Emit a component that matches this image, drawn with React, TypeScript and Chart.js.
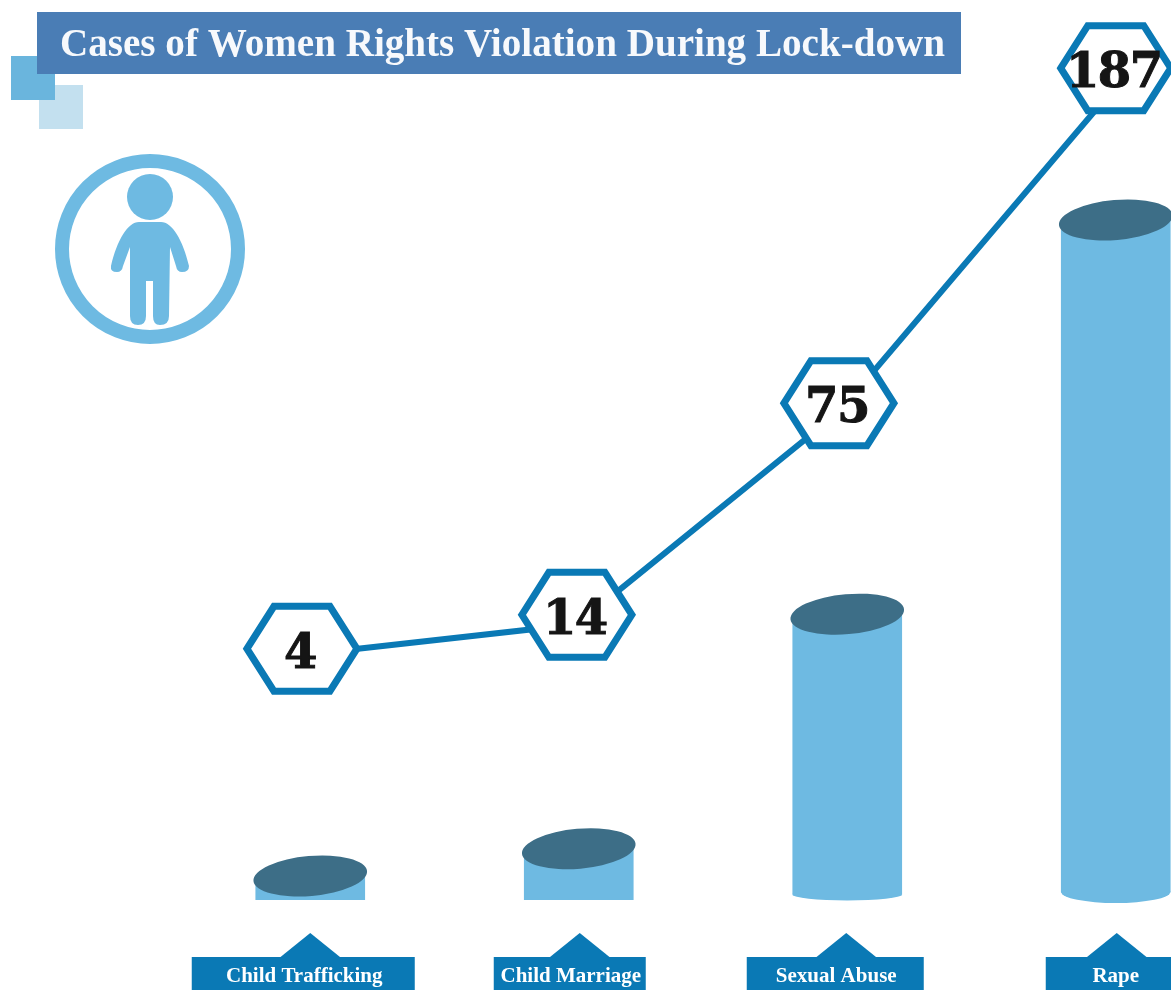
import React, { useEffect, useRef } from "react";
import { Chart, registerables } from "chart.js";

Chart.register(...registerables);

const titleText = "Cases of Women Rights Violation During Lock-down";
const categories = ["Child Trafficking", "Child Marriage", "Sexual Abuse", "Rape"];
const caseCounts = [4, 14, 75, 187];
// Heights and levels: the original's shapes are only roughly to scale.
const cylinderLevels = [6.6, 14.1, 78.6, 187];
const connectorLevels = [2, 11.7, 78.6, 181.3];
const hexagonLevels = [4, 14.7, 81.4, 187];
const hexagonPositions = [-0.031, 0.993, 1.969, 3];

const BAR = "#6EBAE2";
const TOP = "#3D6E87";
const BLUE = "#0A79B5";
const SERIF = '"Liberation Serif", serif';

// styling of the decorations
const capCorner = [0, 0, 5.5, 8];
const capDepth = [0, 0, 6, 11];
const bannerShift = [-7, -9, -12, -1];
const bannerHalf = [111.5, 76, 88.5, 69];
const pointerShift = [0, 1, -1, 1];

function hexPath(ctx: CanvasRenderingContext2D, x: number, y: number) {
  const hw = 55, hh = 42.5, inset = 27;
  ctx.beginPath();
  ctx.moveTo(x - hw, y);
  ctx.lineTo(x - hw + inset, y - hh);
  ctx.lineTo(x + hw - inset, y - hh);
  ctx.lineTo(x + hw, y);
  ctx.lineTo(x + hw - inset, y + hh);
  ctx.lineTo(x - hw + inset, y + hh);
  ctx.closePath();
}

function drawPerson(ctx: CanvasRenderingContext2D) {
  ctx.strokeStyle = BAR;
  ctx.lineWidth = 14;
  ctx.beginPath();
  ctx.arc(150, 249, 88, 0, Math.PI * 2);
  ctx.stroke();
  ctx.fillStyle = BAR;
  ctx.beginPath();
  ctx.arc(150, 197, 23, 0, Math.PI * 2);
  ctx.fill();
  ctx.beginPath();
  ctx.moveTo(139, 222);
  ctx.lineTo(161, 222);
  ctx.bezierCurveTo(172, 222, 183, 240, 189, 266);
  ctx.quadraticCurveTo(189, 272, 182, 272);
  ctx.quadraticCurveTo(177, 272, 176, 266);
  ctx.lineTo(170, 247);
  ctx.lineTo(169, 316);
  ctx.quadraticCurveTo(169, 325, 160, 325);
  ctx.quadraticCurveTo(153, 325, 153, 316);
  ctx.lineTo(153, 281);
  ctx.lineTo(146, 281);
  ctx.lineTo(146, 316);
  ctx.quadraticCurveTo(146, 325, 138, 325);
  ctx.quadraticCurveTo(130, 325, 130, 316);
  ctx.lineTo(130, 247);
  ctx.lineTo(123, 266);
  ctx.quadraticCurveTo(122, 272, 117, 272);
  ctx.quadraticCurveTo(110, 272, 111, 266);
  ctx.bezierCurveTo(117, 240, 128, 222, 139, 222);
  ctx.closePath();
  ctx.fill();
}

const decorations = {
  id: "decorations",
  beforeDraw(chart: any) {
    const ctx: CanvasRenderingContext2D = chart.ctx;
    ctx.save();
    ctx.fillStyle = "#ffffff";
    ctx.fillRect(0, 0, chart.width, chart.height);
    ctx.fillStyle = "#C3E0EF";
    ctx.fillRect(39, 85, 44, 44);
    ctx.fillStyle = "#6AB5DD";
    ctx.fillRect(11, 56, 44, 44);
    ctx.fillStyle = "#4A7DB5";
    ctx.fillRect(37, 12, 924, 62);
    ctx.fillStyle = "#F7F9FC";
    ctx.font = `bold 40px ${SERIF}`;
    ctx.textAlign = "left";
    ctx.textBaseline = "alphabetic";
    ctx.fillText(titleText, 60, 56, 885);
    drawPerson(ctx);

    const xScale = chart.scales.x;
    categories.forEach((label, i) => {
      const c = xScale.getPixelForValue(i);
      const m = c + bannerShift[i];
      const p = c + pointerShift[i];
      ctx.fillStyle = BLUE;
      ctx.fillRect(m - bannerHalf[i], 957, bannerHalf[i] * 2, 33);
      ctx.beginPath();
      ctx.moveTo(p - 31, 958);
      ctx.lineTo(p, 933);
      ctx.lineTo(p + 31, 958);
      ctx.closePath();
      ctx.fill();
      ctx.fillStyle = "#ffffff";
      ctx.font = `bold 21px ${SERIF}`;
      ctx.textAlign = "center";
      ctx.fillText(label, m + 1, 982);
    });
    ctx.restore();
  },
  afterDatasetsDraw(chart: any) {
    const ctx: CanvasRenderingContext2D = chart.ctx;
    ctx.save();
    const bars = chart.getDatasetMeta(0).data;
    bars.forEach((bar: any, i: number) => {
      const half = bar.width / 2;
      if (capDepth[i] > 0) {
        const cornerY = bar.base - capCorner[i];
        ctx.fillStyle = "#ffffff";
        ctx.fillRect(bar.x - half - 1, cornerY, bar.width + 2, capCorner[i] + 2);
        ctx.fillStyle = BAR;
        ctx.beginPath();
        ctx.ellipse(bar.x, cornerY, half, capDepth[i], 0, 0, Math.PI);
        ctx.closePath();
        ctx.fill();
        ctx.fillRect(bar.x - half, cornerY - 1, bar.width, 2);
      }
      ctx.fillStyle = TOP;
      ctx.beginPath();
      ctx.ellipse(bar.x, bar.y, 57, 20, (-5 * Math.PI) / 180, 0, Math.PI * 2);
      ctx.fill();
    });
    const hexes = chart.getDatasetMeta(2).data;
    hexes.forEach((pt: any, i: number) => {
      hexPath(ctx, pt.x, pt.y);
      ctx.fillStyle = "#ffffff";
      ctx.fill();
      ctx.strokeStyle = BLUE;
      ctx.lineWidth = 7;
      ctx.lineJoin = "miter";
      ctx.stroke();
      ctx.fillStyle = "#151515";
      ctx.strokeStyle = "#151515";
      ctx.lineWidth = 1;
      ctx.font = 'bold 48px "DejaVu Serif", serif';
      (ctx as any).letterSpacing = "-1.5px";
      ctx.textAlign = "center";
      ctx.textBaseline = "alphabetic";
      ctx.fillText(String(caseCounts[i]), pt.x - 2, pt.y + 19);
      ctx.strokeText(String(caseCounts[i]), pt.x - 2, pt.y + 19);
      (ctx as any).letterSpacing = "0px";
    });
    ctx.restore();
  },
};

export default function App() {
  const ref = useRef<HTMLCanvasElement | null>(null);
  useEffect(() => {
    const chart = new Chart(ref.current as HTMLCanvasElement, {
      type: "bar",
      data: {
        labels: categories,
        datasets: [
          {
            type: "bar",
            label: "Cylinders",
            data: cylinderLevels,
            backgroundColor: BAR,
            barThickness: 109,
            grouped: false,
            order: 3,
          },
          {
            type: "line",
            label: "Connector",
            data: connectorLevels.map((y, i) => ({ x: hexagonPositions[i], y })),
            xAxisID: "x2",
            yAxisID: "y2",
            borderColor: BLUE,
            borderWidth: 6,
            pointRadius: 0,
            tension: 0,
            clip: false,
            order: 2,
          },
          {
            type: "line",
            label: "Cases",
            data: hexagonLevels.map((y, i) => ({ x: hexagonPositions[i], y })),
            xAxisID: "x2",
            yAxisID: "y2",
            showLine: false,
            pointRadius: 0,
            clip: false,
            order: 1,
          },
        ],
      } as any,
      options: {
        responsive: false,
        animation: false,
        layout: { padding: { left: 176, right: 0, top: 0, bottom: 90 } },
        plugins: { legend: { display: false }, tooltip: { enabled: false } },
        scales: {
          x: { type: "category", display: false, offset: true },
          y: { type: "linear", display: false, min: 0, max: 247.5 },
          x2: { type: "linear", display: false, min: -0.5, max: 3.5, offset: false },
          y2: { type: "linear", display: false, min: -75.2, max: 208.5 },
        },
      } as any,
      plugins: [decorations],
    });
    return () => chart.destroy();
  }, []);
  return (
    <div style={{ position: "absolute", left: 0, top: 0, width: 1171, height: 990, overflow: "hidden", background: "#fff" }}>
      <canvas ref={ref} width={1250} height={990} style={{ display: "block" }} />
    </div>
  );
}
